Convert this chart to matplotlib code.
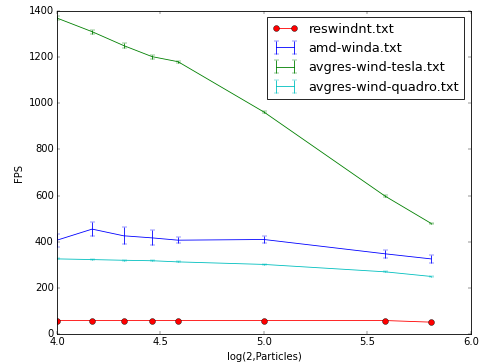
import matplotlib
matplotlib.use("Agg")
import matplotlib.pyplot as plt

plt.style.use("classic")

# log2 of particle counts (16, 18, 20, 22, 24, 32, 48, 56)
x = [4.0, 4.1699, 4.3219, 4.4594, 4.585, 5.0, 5.585, 5.807]

reswindnt = [59, 59, 59, 59, 59, 59, 59, 52]

amd_winda = [407, 455, 426, 417, 407, 410, 348, 326]
amd_winda_err = [28, 29, 36, 33, 14, 15, 18, 16]

tesla = [1369, 1310, 1250, 1202, 1180, 962, 598, 480]
tesla_err = [8, 8, 10, 9, 5, 3, 3, 3]

quadro = [326, 323, 320, 318, 313, 302, 270, 250]
quadro_err = [2, 2, 2, 2, 2, 2, 2, 2]

fig = plt.figure(figsize=(485 / 60, 364 / 60), dpi=60, facecolor="white")
ax = fig.add_axes([0.1175, 0.082, 0.8535, 0.888])

ax.plot(x, reswindnt, "r-o", markeredgecolor="k", markersize=7, label="reswindnt.txt")
ax.errorbar(x, amd_winda, yerr=amd_winda_err, color="b", label="amd-winda.txt")
ax.errorbar(x, tesla, yerr=tesla_err, color="g", label="avgres-wind-tesla.txt")
ax.errorbar(x, quadro, yerr=quadro_err, color="c", label="avgres-wind-quadro.txt")

ax.set_xlim(4.0, 6.0)
ax.set_ylim(0, 1400)
ax.set_xticks([4.0, 4.5, 5.0, 5.5, 6.0])
ax.set_yticks(range(0, 1401, 200))
ax.set_xlabel("log(2,Particles)")
ax.set_ylabel("FPS")
ax.legend(loc="upper right", fontsize=15.5)

fig.savefig("out.png", dpi=60, facecolor="white")
